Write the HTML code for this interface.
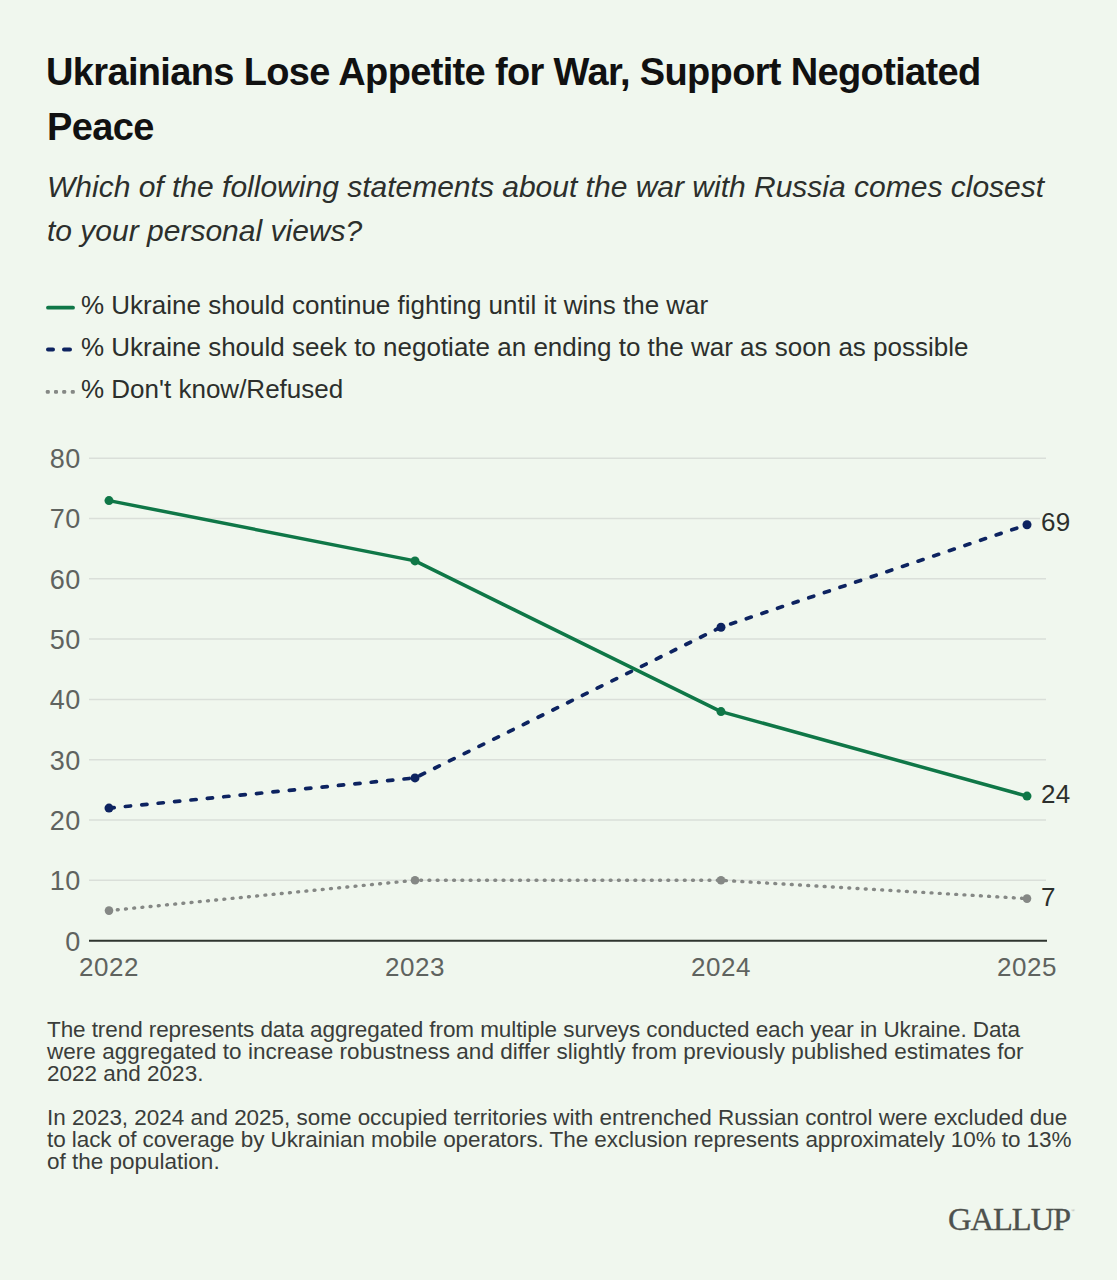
<!DOCTYPE html>
<html><head><meta charset="utf-8">
<style>
html,body{margin:0;padding:0;}
body{width:1117px;height:1280px;background:#f0f7ee;position:relative;overflow:hidden;font-family:"Liberation Sans",sans-serif;}
.t{position:absolute;white-space:nowrap;line-height:1;}
#title{left:46px;top:53px;font-weight:bold;font-size:38px;letter-spacing:-0.65px;color:#111;}
#title2{left:47px;top:108px;font-weight:bold;font-size:38px;letter-spacing:-0.65px;color:#111;}
#sub1{left:47px;top:172px;font-style:italic;font-size:30px;color:#2c2f2c;}
#sub2{left:47px;top:216px;font-style:italic;font-size:30px;color:#2c2f2c;}
.leg{left:81px;font-size:26px;color:#2c2f2c;}
.yl{font-size:27px;letter-spacing:0.3px;color:#5f635f;text-align:right;width:61px;left:19.5px;}
.xl{font-size:26px;letter-spacing:0.5px;color:#5f635f;text-align:center;width:100px;}
.vl{font-size:26px;letter-spacing:0.3px;color:#2c2f2c;left:1041px;}
.foot{left:47px;font-size:22.5px;color:#3a3d3a;}
#gallup{left:948px;top:1203px;font-family:"Liberation Serif",serif;font-size:32.5px;letter-spacing:-1.0px;color:#4d514d;-webkit-text-stroke:0.35px #4d514d;}
svg{position:absolute;left:0;top:0;}
</style></head>
<body>
<div class="t" id="title">Ukrainians Lose Appetite for War, Support Negotiated</div>
<div class="t" id="title2">Peace</div>
<div class="t" id="sub1">Which of the following statements about the war with Russia comes closest</div>
<div class="t" id="sub2">to your personal views?</div>

<svg width="1117" height="1280" viewBox="0 0 1117 1280">
  <!-- legend markers -->
  <line x1="48" y1="307.7" x2="73" y2="307.7" stroke="#0f7747" stroke-width="3.8" stroke-linecap="round"/>
  <line x1="48" y1="349.5" x2="53" y2="349.5" stroke="#0d2360" stroke-width="4" stroke-linecap="round"/>
  <line x1="64" y1="349.5" x2="70" y2="349.5" stroke="#0d2360" stroke-width="4" stroke-linecap="round"/>
  <g fill="#858885">
    <rect x="45.8" y="389.9" width="4" height="3.8" rx="1.3"/><rect x="54" y="389.9" width="4" height="3.8" rx="1.3"/><rect x="62.2" y="389.9" width="4" height="3.8" rx="1.3"/><rect x="70.8" y="389.9" width="4" height="3.8" rx="1.3"/>
  </g>
  <!-- gridlines -->
  <g stroke="#dadfd9" stroke-width="1.5">
    <line x1="89" x2="1046" y1="458.2" y2="458.2"/>
    <line x1="89" x2="1040" y1="518.5" y2="518.5"/>
    <line x1="89" x2="1046" y1="578.8" y2="578.8"/>
    <line x1="89" x2="1046" y1="639.1" y2="639.1"/>
    <line x1="89" x2="1046" y1="699.4" y2="699.4"/>
    <line x1="89" x2="1046" y1="759.7" y2="759.7"/>
    <line x1="89" x2="1046" y1="820" y2="820"/>
    <line x1="89" x2="1046" y1="880.3" y2="880.3"/>
  </g>
  <line x1="89" x2="1047" y1="940.8" y2="940.8" stroke="#2f352f" stroke-width="2"/>
  <!-- gray dotted -->
  <polyline fill="none" stroke="#858885" stroke-width="3.4" stroke-linecap="round" stroke-dasharray="0.9 7.338" stroke-dashoffset="-0.15" points="109,910.6 415,880.3 721,880.3 1027,898.6"/>
  <g fill="#858885"><circle cx="109" cy="910.6" r="4.3"/><circle cx="415" cy="880.3" r="4.3"/><circle cx="721" cy="880.3" r="4.3"/><circle cx="1027" cy="898.6" r="4.3"/></g>
  <!-- navy dashed -->
  <polyline fill="none" stroke="#0d2360" stroke-width="3.7" stroke-linecap="round" stroke-dasharray="5.2 11.27" points="109,808.1 415,777.9 721,627.2 1027,524.7"/>
  <g fill="#0d2360"><circle cx="109" cy="808.1" r="4.5"/><circle cx="415" cy="777.9" r="4.5"/><circle cx="721" cy="627.2" r="4.5"/><circle cx="1027" cy="524.7" r="4.5"/></g>
  <!-- green solid -->
  <polyline fill="none" stroke="#0f7747" stroke-width="3.5" stroke-linejoin="round" points="109,500.6 415,560.9 721,711.6 1027,796.1"/>
  <g fill="#0f7747"><circle cx="109" cy="500.6" r="4.5"/><circle cx="415" cy="560.9" r="4.5"/><circle cx="721" cy="711.6" r="4.5"/><circle cx="1027" cy="796.1" r="4.5"/></g>
</svg>

<div class="t leg" style="top:292px">% Ukraine should continue fighting until it wins the war</div>
<div class="t leg" style="top:334px">% Ukraine should seek to negotiate an ending to the war as soon as possible</div>
<div class="t leg" style="top:376px">% Don't know/Refused</div>

<div class="t yl" style="top:446.1px">80</div>
<div class="t yl" style="top:506.4px">70</div>
<div class="t yl" style="top:566.7px">60</div>
<div class="t yl" style="top:627.0px">50</div>
<div class="t yl" style="top:687.3px">40</div>
<div class="t yl" style="top:747.6px">30</div>
<div class="t yl" style="top:807.9px">20</div>
<div class="t yl" style="top:868.2px">10</div>
<div class="t yl" style="top:928.7px">0</div>

<div class="t xl" style="left:59px;top:954px">2022</div>
<div class="t xl" style="left:365px;top:954px">2023</div>
<div class="t xl" style="left:671px;top:954px">2024</div>
<div class="t xl" style="left:977px;top:954px">2025</div>

<div class="t vl" style="top:509px">69</div>
<div class="t vl" style="top:781px">24</div>
<div class="t vl" style="top:884px">7</div>

<div class="t foot" style="top:1019px;letter-spacing:-0.08px">The trend represents data aggregated from multiple surveys conducted each year in Ukraine. Data</div>
<div class="t foot" style="top:1041px;letter-spacing:0.04px">were aggregated to increase robustness and differ slightly from previously published estimates for</div>
<div class="t foot" style="top:1063px">2022 and 2023.</div>
<div class="t foot" style="top:1107px;letter-spacing:-0.03px">In 2023, 2024 and 2025, some occupied territories with entrenched Russian control were excluded due</div>
<div class="t foot" style="top:1129px;letter-spacing:-0.07px">to lack of coverage by Ukrainian mobile operators. The exclusion represents approximately 10% to 13%</div>
<div class="t foot" style="top:1151px">of the population.</div>

<div class="t" id="gallup">GALLUP<span style="font-size:5px;vertical-align:top;position:relative;top:5px;left:1px;color:#9a9d9a;-webkit-text-stroke:0">®</span></div>
</body></html>
